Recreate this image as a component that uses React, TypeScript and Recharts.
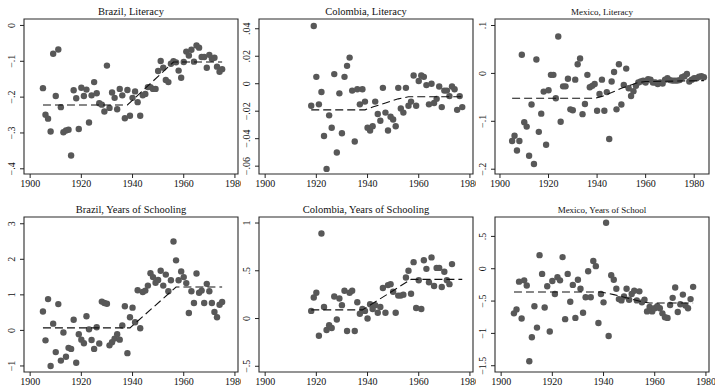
import { ScatterChart, Scatter, XAxis, YAxis, ReferenceArea } from "recharts";

type Pt = [number, number];

const yearTicks = [1900, 1920, 1940, 1960, 1980];

const brazilLiteracy: Pt[] = [
  [1905, -0.175], [1906, -0.249], [1907, -0.26], [1908, -0.296], [1909, -0.079], [1910, -0.197],
  [1911, -0.067], [1912, -0.228], [1913, -0.298], [1914, -0.293], [1915, -0.291], [1916, -0.363],
  [1917, -0.181], [1918, -0.203], [1919, -0.289], [1920, -0.174], [1921, -0.197], [1922, -0.179],
  [1923, -0.271], [1924, -0.195], [1925, -0.158], [1926, -0.189], [1927, -0.217], [1928, -0.221],
  [1929, -0.24], [1930, -0.112], [1931, -0.23], [1932, -0.187], [1933, -0.202], [1934, -0.234],
  [1935, -0.177], [1936, -0.195], [1937, -0.259], [1938, -0.18], [1939, -0.252], [1940, -0.202],
  [1941, -0.184], [1942, -0.214], [1943, -0.252], [1944, -0.195], [1945, -0.191], [1946, -0.172],
  [1947, -0.172], [1948, -0.177], [1949, -0.177], [1950, -0.127], [1951, -0.099], [1952, -0.118],
  [1953, -0.152], [1954, -0.158], [1955, -0.107], [1956, -0.1], [1957, -0.103], [1958, -0.126],
  [1959, -0.146], [1960, -0.102], [1961, -0.073], [1962, -0.084], [1963, -0.068], [1964, -0.101],
  [1965, -0.056], [1966, -0.062], [1967, -0.088], [1968, -0.088], [1969, -0.118], [1970, -0.082],
  [1971, -0.093], [1972, -0.09], [1973, -0.115], [1974, -0.129], [1975, -0.122],
];
const brazilLiteracyFit: Pt[] = [[1905, -0.222], [1938, -0.222], [1956, -0.102], [1975, -0.102]];
const brazilLiteracyTicks = [0, -0.1, -0.2, -0.3, -0.4];

const colombiaLiteracy: Pt[] = [
  [1918, -0.016], [1919, 0.042], [1920, 0.005], [1921, -0.015], [1922, -0.006], [1923, -0.038],
  [1924, -0.062], [1925, -0.023], [1926, -0.032], [1927, 0.007], [1928, -0.05], [1929, -0.007],
  [1930, -0.036], [1931, 0.005], [1932, 0.013], [1933, 0.019], [1934, -0.005], [1935, -0.042],
  [1936, -0.004], [1937, -0.015], [1938, -0.004], [1939, -0.013], [1940, -0.032], [1941, -0.034],
  [1942, -0.031], [1943, -0.013], [1944, -0.022], [1945, -0.027], [1946, -0.003], [1947, -0.021],
  [1948, -0.034], [1949, -0.024], [1950, -0.026], [1951, -0.031], [1952, -0.003], [1953, -0.018],
  [1954, -0.021], [1955, -0.003], [1956, -0.016], [1957, -0.013], [1958, 0.006], [1959, -0.016],
  [1960, 0.002], [1961, 0.006], [1962, 0.005], [1963, -0.001], [1964, -0.015], [1965, 0.0],
  [1966, -0.014], [1967, -0.011], [1968, -0.002], [1969, -0.017], [1970, -0.005], [1971, -0.005],
  [1972, -0.009], [1973, -0.002], [1974, -0.004], [1975, -0.019], [1976, -0.009], [1977, -0.017],
];
const colombiaLiteracyFit: Pt[] = [
  [1918, -0.019], [1939, -0.019], [1942, -0.017], [1947, -0.014], [1952, -0.011], [1956, -0.0095], [1977, -0.0095],
];
const colombiaLiteracyTicks = [0.04, 0.02, 0, -0.02, -0.04, -0.06];

const mexicoLiteracy: Pt[] = [
  [1905, -0.141], [1906, -0.13], [1907, -0.161], [1908, -0.141], [1909, 0.039], [1910, -0.102],
  [1911, -0.111], [1912, -0.172], [1913, -0.065], [1914, -0.189], [1915, 0.029], [1916, -0.122],
  [1917, -0.084], [1918, -0.038], [1919, -0.149], [1920, -0.035], [1921, -0.003], [1922, -0.003],
  [1923, -0.052], [1924, 0.077], [1925, -0.101], [1926, -0.027], [1927, -0.027], [1928, -0.011],
  [1929, -0.075], [1930, -0.077], [1931, -0.013], [1932, 0.019], [1933, 0.031], [1934, -0.085],
  [1935, -0.064], [1936, -0.003], [1937, -0.029], [1938, -0.026], [1939, -0.022], [1940, -0.078],
  [1941, -0.043], [1942, -0.013], [1943, -0.078], [1944, -0.039], [1945, -0.137], [1946, -0.017],
  [1947, 0.003], [1948, -0.075], [1949, 0.019], [1950, -0.065], [1951, -0.024], [1952, 0.01],
  [1953, -0.031], [1954, -0.047], [1955, -0.037], [1956, -0.026], [1957, -0.019], [1958, -0.017],
  [1959, -0.015], [1960, -0.019], [1961, -0.012], [1962, -0.013], [1963, -0.019], [1964, -0.019],
  [1965, -0.022], [1966, -0.019], [1967, -0.021], [1968, -0.013], [1969, -0.01], [1970, -0.014],
  [1971, -0.015], [1972, -0.015], [1973, -0.015], [1974, -0.014], [1975, -0.008], [1976, -0.006],
  [1977, -0.001], [1978, -0.017], [1979, -0.013], [1980, -0.01], [1981, -0.01], [1982, -0.007],
  [1983, -0.006], [1984, -0.008],
];
const mexicoLiteracyFit: Pt[] = [
  [1905, -0.052], [1939, -0.052], [1942, -0.048], [1946, -0.04], [1950, -0.031], [1954, -0.024],
  [1957, -0.019], [1960, -0.017], [1984, -0.015],
];
const mexicoLiteracyTicks = [0.1, 0, -0.1, -0.2];

const brazilSchooling: Pt[] = [
  [1905, 0.53], [1906, -0.28], [1907, 0.88], [1908, -1.0], [1909, 0.19], [1910, -0.61],
  [1911, 0.74], [1912, -0.85], [1913, -0.06], [1914, -0.74], [1915, -0.49], [1916, -0.52],
  [1917, 0.3], [1918, -0.91], [1919, -0.11], [1920, -0.26], [1921, -0.36], [1922, 0.4],
  [1923, 0.03], [1924, -0.27], [1925, -0.52], [1926, 0.09], [1927, -0.37], [1928, 0.81],
  [1929, 0.77], [1930, 0.75], [1931, -0.42], [1932, -0.33], [1933, -0.23], [1934, -0.11],
  [1935, -0.26], [1936, 0.14], [1937, 0.68], [1938, -0.64], [1939, 0.37], [1940, 0.64],
  [1941, 0.23], [1942, 1.13], [1943, 0.06], [1944, 1.08], [1945, 1.12], [1946, 1.26],
  [1947, 1.61], [1948, 1.5], [1949, 1.34], [1950, 1.42], [1951, 1.68], [1952, 1.26],
  [1953, 1.57], [1954, 1.1], [1955, 1.41], [1956, 2.5], [1957, 1.97], [1958, 1.41],
  [1959, 1.66], [1960, 1.5], [1961, 1.33], [1962, 0.49], [1963, 1.1], [1964, 0.77],
  [1965, 1.6], [1966, 1.06], [1967, 1.12], [1968, 0.77], [1969, 1.31], [1970, 1.1],
  [1971, 0.77], [1972, 0.52], [1973, 0.37], [1974, 0.72], [1975, 0.8],
];
const brazilSchoolingFit: Pt[] = [[1905, 0.07], [1939, 0.07], [1957, 1.22], [1975, 1.22]];
const brazilSchoolingTicks = [3, 2, 1, 0, -1];

const colombiaSchooling: Pt[] = [
  [1918, 0.08], [1919, 0.22], [1920, 0.27], [1921, -0.18], [1922, 0.89], [1923, 0.12],
  [1924, -0.12], [1925, -0.07], [1926, -0.1], [1927, 0.23], [1928, -0.01], [1929, 0.21],
  [1930, 0.14], [1931, 0.29], [1932, -0.13], [1933, 0.27], [1934, 0.29], [1935, -0.13],
  [1936, 0.17], [1937, 0.05], [1938, 0.1], [1939, 0.08], [1940, 0.0], [1941, 0.15],
  [1942, 0.1], [1943, 0.14], [1944, 0.06], [1945, 0.12], [1946, 0.32], [1947, 0.06],
  [1948, 0.35], [1949, 0.36], [1950, 0.28], [1951, 0.06], [1952, 0.24], [1953, 0.24],
  [1954, 0.25], [1955, 0.43], [1956, 0.5], [1957, 0.26], [1958, 0.59], [1959, 0.11],
  [1960, 0.4], [1961, 0.1], [1962, 0.61], [1963, 0.52], [1964, 0.38], [1965, 0.64],
  [1966, 0.34], [1967, 0.53], [1968, 0.53], [1969, 0.33], [1970, 0.49], [1971, 0.4],
  [1972, 0.36], [1973, 0.57],
];
const colombiaSchoolingFit: Pt[] = [[1918, 0.09], [1938, 0.09], [1957, 0.41], [1977, 0.41]];
const colombiaSchoolingTicks = [1, 0.5, 0, -0.5];

const mexicoSchooling: Pt[] = [
  [1905, -0.69], [1906, -0.63], [1907, -0.2], [1908, -0.77], [1909, -0.18], [1910, -0.26],
  [1911, -1.43], [1912, -1.06], [1913, -0.58], [1914, -0.91], [1915, 0.21], [1916, -0.08],
  [1917, -0.6], [1918, -0.27], [1919, -0.97], [1920, -0.19], [1921, -0.39], [1922, -0.13],
  [1923, -0.18], [1924, 0.18], [1925, -0.78], [1926, -0.08], [1927, -0.51], [1928, -0.25],
  [1929, -0.76], [1930, -0.17], [1931, -0.31], [1932, -0.68], [1933, -0.44], [1934, -0.04],
  [1935, -0.44], [1936, 0.12], [1937, 0.04], [1938, -0.84], [1939, -0.39], [1940, -0.52],
  [1941, 0.71], [1942, -1.04], [1943, -0.1], [1944, -0.17], [1945, -0.31], [1946, -0.47],
  [1947, -0.49], [1948, -0.43], [1949, -0.31], [1950, -0.48], [1951, -0.39], [1952, -0.34],
  [1953, -0.49], [1954, -0.35], [1955, -0.52], [1956, -0.48], [1957, -0.66], [1958, -0.59],
  [1959, -0.66], [1960, -0.61], [1961, -0.58], [1962, -0.61], [1963, -0.69], [1964, -0.75],
  [1965, -0.76], [1966, -0.56], [1967, -0.45], [1968, -0.29], [1969, -0.67], [1970, -0.55],
  [1971, -0.4], [1972, -0.57], [1973, -0.61], [1974, -0.47], [1975, -0.28],
];
const mexicoSchoolingFit: Pt[] = [
  [1905, -0.36], [1939, -0.36], [1944, -0.4], [1950, -0.46], [1955, -0.51], [1958, -0.53], [1975, -0.53],
];
const mexicoSchoolingTicks = [0.5, 0, -0.5, -1, -1.5];

const FONT = "'Liberation Serif', 'Times New Roman', serif";
const INK = "#111";
const DOT = "#585858";

// Stata style labels: no leading zero, true minus sign
const fmt = (v: number) => {
  if (v === 0) return "0";
  const s = String(Math.abs(v)).replace(/^0\./, ".");
  return (v < 0 ? "\u2212" : "") + s;
};

const YTick = (props: any) => {
  const { x, y, payload } = props;
  return (
    <text x={x} y={y} transform={`rotate(-90 ${x} ${y})`} textAnchor="middle" fontSize={10} fill={INK} fontFamily={FONT}>
      {fmt(payload.value)}
    </text>
  );
};

const Dot = (p: any) => <circle cx={p.cx} cy={p.cy} r={3.2} fill={DOT} />;

type PanelProps = {
  title: string;
  titleSize: number;
  points: Pt[];
  fit: Pt[];
  yTicks: number[];
  yDomain: [number, number];
  xDomain: [number, number];
  left: number;
  top: number;
  width: number;
};

const Panel = ({ title, titleSize, points, fit, yTicks, yDomain, xDomain, left, top, width }: PanelProps) => {
  const pts = points.map(([x, y]) => ({ x, y }));
  const fitPts = fit.map(([x, y]) => ({ x, y }));
  const plotW = 214;
  return (
    <div style={{ position: "absolute", left, top, width, height: 196, overflow: "hidden" }}>
      <div
        style={{
          position: "absolute", left: 24, top: 6, width: plotW, textAlign: "center",
          fontSize: titleSize, lineHeight: "12px", fontFamily: FONT, color: INK, whiteSpace: "nowrap",
        }}
      >
        {title}
      </div>
      <ScatterChart width={width} height={196} margin={{ top: 19, right: width - 24 - plotW, bottom: 0, left: 0 }}>
        <XAxis
          type="number" dataKey="x" domain={xDomain} allowDataOverflow ticks={yearTicks} interval={0}
          axisLine={false} tickLine={{ stroke: "#222" }} tickSize={4} tickMargin={2} height={22}
          tick={{ fontSize: 10, fill: INK, fontFamily: FONT }}
        />
        <YAxis
          type="number" dataKey="y" domain={yDomain} allowDataOverflow ticks={yTicks} interval={0}
          axisLine={false} tickLine={{ stroke: "#222" }} tickSize={4} tickMargin={5} width={24}
          tick={<YTick />}
        />
        <ReferenceArea x1={xDomain[0]} x2={xDomain[1]} y1={yDomain[0]} y2={yDomain[1]} fill="none" fillOpacity={0} stroke="#2a2a2a" strokeWidth={1.1} />
        <Scatter data={pts} shape={<Dot />} isAnimationActive={false} />
        <Scatter
          data={fitPts} shape={() => <g />} isAnimationActive={false}
          line={{ stroke: "#111", strokeWidth: 1.1, strokeDasharray: "8 4" }}
        />
      </ScatterChart>
    </div>
  );
};

const X_STD: [number, number] = [1897.6, 1981.2];
const X_MEX_LIT: [number, number] = [1897.95, 1986.1];

export default function App() {
  return (
    <div style={{ position: "absolute", left: 0, top: 0, width: 715, height: 387, background: "#fff", overflow: "hidden" }}>
      <Panel title="Brazil, Literacy" titleSize={10.5} points={brazilLiteracy} fit={brazilLiteracyFit}
        yTicks={brazilLiteracyTicks} yDomain={[-0.4145, 0.018]} xDomain={X_STD} left={0} top={0} width={241} />
      <Panel title="Colombia, Literacy" titleSize={10.5} points={colombiaLiteracy} fit={colombiaLiteracyFit}
        yTicks={colombiaLiteracyTicks} yDomain={[-0.0657, 0.0471]} xDomain={X_STD} left={235} top={0} width={241} />
      <Panel title="Mexico, Literacy" titleSize={9} points={mexicoLiteracy} fit={mexicoLiteracyFit}
        yTicks={mexicoLiteracyTicks} yDomain={[-0.21, 0.1136]} xDomain={X_MEX_LIT} left={471} top={0} width={244} />
      <Panel title="Brazil, Years of Schooling" titleSize={10.5} points={brazilSchooling} fit={brazilSchoolingFit}
        yTicks={brazilSchoolingTicks} yDomain={[-1.17, 3.19]} xDomain={X_STD} left={0} top={198} width={241} />
      <Panel title="Colombia, Years of Schooling" titleSize={10.5} points={colombiaSchooling} fit={colombiaSchoolingFit}
        yTicks={colombiaSchoolingTicks} yDomain={[-0.56, 1.063]} xDomain={X_STD} left={235} top={198} width={241} />
      <Panel title="Mexico, Years of School" titleSize={9} points={mexicoSchooling} fit={mexicoSchoolingFit}
        yTicks={mexicoSchoolingTicks} yDomain={[-1.597, 0.8]} xDomain={X_STD} left={471} top={198} width={244} />
    </div>
  );
}
